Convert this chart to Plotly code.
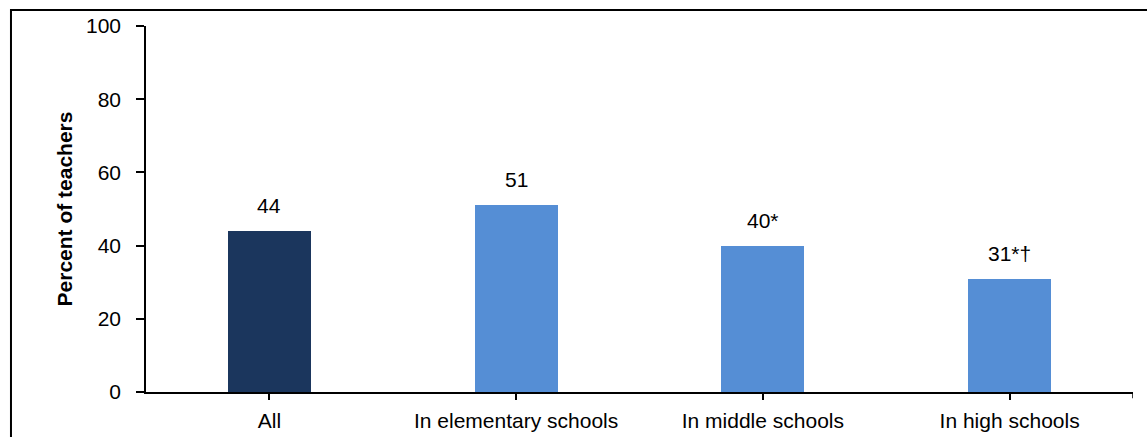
import plotly.graph_objects as go

categories = ["All", "In elementary schools", "In middle schools", "In high schools"]
values = [44, 51, 40, 31]
value_labels = ["44", "51", "40*", "31*†"]
bar_colors = ["#1B365D", "#558ED5", "#558ED5", "#558ED5"]
y_ticks = [0, 20, 40, 60, 80, 100]

FONT = "Liberation Sans"
FS = 21

fig = go.Figure()
fig.add_trace(go.Bar(
    x=categories, y=values, marker=dict(color=bar_colors, line=dict(width=0)),
    width=0.336, hoverinfo="skip", showlegend=False,
))

for c, v, t in zip(categories, values, value_labels):
    fig.add_annotation(x=c, y=v, text=t, showarrow=False, yanchor="bottom",
                       yshift=12, font=dict(family=FONT, size=FS, color="#000"))

# right-end tick of category axis
fig.add_shape(type="line", xref="x", yref="paper", x0=3.5, x1=3.5, y0=0, y1=-0.017,
              line=dict(color="#000", width=1.5))
# outer frame
fig.add_shape(type="rect", xref="paper", yref="paper", x0=-0.1368, x1=1.05, y0=-0.3, y1=1.0437,
              line=dict(color="#000", width=2), layer="above")

fig.update_layout(
    width=1147, height=437,
    margin=dict(l=146, r=14, t=26, b=45, autoexpand=False),
    paper_bgcolor="white", plot_bgcolor="white",
    font=dict(family=FONT, size=FS, color="#000"),
    bargap=0,
    xaxis=dict(
        type="category", range=[-0.5, 3.5], automargin=False,
        showline=True, linecolor="#000", linewidth=1.5,
        ticks="outside", ticklen=6, tickwidth=1.5, tickcolor="#000",
        showgrid=False, zeroline=False, ticklabelstandoff=3,
        tickfont=dict(family=FONT, size=FS, color="#000"),
    ),
    yaxis=dict(
        range=[0, 100], tickvals=y_ticks, automargin=False,
        showline=True, linecolor="#000", linewidth=1.5,
        ticks="outside", ticklen=8, tickwidth=1.5, tickcolor="#000",
        showgrid=False, zeroline=False, ticklabelstandoff=11,
        tickfont=dict(family=FONT, size=FS, color="#000"),
        title=dict(text="<b>Percent of teachers</b>", standoff=8,
                   font=dict(family=FONT, size=21, color="#000")),
    ),
)

fig.write_html("out.html", config={"displayModeBar": False},
               post_script="document.body.style.margin='0';")
